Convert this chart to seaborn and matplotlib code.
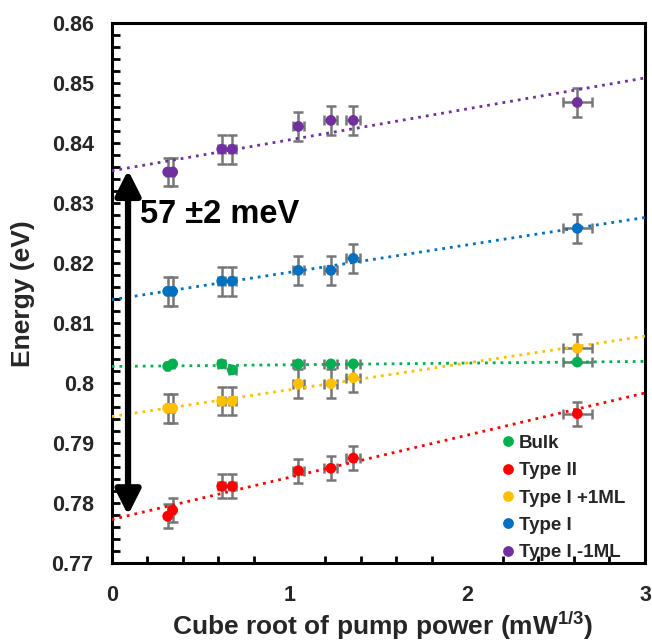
import numpy as np
import pandas as pd
import matplotlib
matplotlib.use("Agg")
import matplotlib.pyplot as plt
import seaborn as sns
from matplotlib.ticker import MultipleLocator, FixedLocator, FuncFormatter

# ---------------- data ----------------
x_vals = [0.315, 0.343, 0.619, 0.678, 1.050, 1.233, 1.359, 2.619]
x_err = [0.009, 0.010, 0.019, 0.020, 0.032, 0.037, 0.040, 0.080]

series_names = ["Bulk", "Type II", "Type I +1ML", "Type I", "Type I -1ML"]
bulk = [0.8028, 0.8032, 0.8032, 0.8022, 0.8032, 0.8032, 0.8032, 0.8035]
type_ii = [0.7778, 0.7788, 0.7828, 0.7828, 0.7854, 0.7858, 0.7875, 0.7949]
type_i_plus1 = [0.7958, 0.7958, 0.7970, 0.7970, 0.7999, 0.7999, 0.8009, 0.8058]
type_i = [0.8153, 0.8153, 0.8170, 0.8170, 0.8188, 0.8188, 0.8208, 0.8258]
type_i_minus1 = [0.8352, 0.8352, 0.8390, 0.8390, 0.8428, 0.8438, 0.8438, 0.8468]
series_values = [bulk, type_ii, type_i_plus1, type_i, type_i_minus1]
y_err = [0.0, 0.0020, 0.0024, 0.0024, 0.0024]
colors = ["#00B050", "#FF0000", "#FFC000", "#0070C0", "#7030A0"]

gap_top = 0.8355
gap_bottom = 0.7780
gap_x = 0.092
gap_label = "57 \u00b12 meV"

x_ticks = [0, 1, 2, 3]
y_ticks = [0.77, 0.78, 0.79, 0.80, 0.81, 0.82, 0.83, 0.84, 0.85, 0.86]

# ---------------- styling ----------------
sns.set_style("white")
plt.rcParams["font.family"] = ["Liberation Sans", "DejaVu Sans"]
plt.rcParams["font.weight"] = "bold"
plt.rcParams["mathtext.fontset"] = "custom"
plt.rcParams["mathtext.rm"] = "Liberation Sans:bold"
plt.rcParams["mathtext.it"] = "Liberation Sans:bold"
plt.rcParams["mathtext.bf"] = "Liberation Sans:bold"

rows = []
for name, vals in zip(series_names, series_values):
    for xv, yv in zip(x_vals, vals):
        rows.append({"x": xv, "Energy": yv, "Series": name})
df = pd.DataFrame(rows)
palette = dict(zip(series_names, colors))

fig = plt.figure(figsize=(6.52, 6.43), dpi=100)
ax = fig.add_axes([0.1713, 0.1244, 0.8180, 0.8394])
ax.set_xlim(0, 3)
ax.set_ylim(0.77, 0.86)

# error bars
for name, vals, ye in zip(series_names, series_values, y_err):
    ax.errorbar(x_vals, vals, xerr=x_err, yerr=ye if ye > 0 else None,
                fmt="none", ecolor="#767676", elinewidth=1.8,
                capsize=3.6, capthick=1.8, zorder=2)

# linear trend lines (dotted) spanning the full axis
for name in series_names:
    sub = df[df["Series"] == name]
    sns.regplot(data=sub, x="x", y="Energy", ax=ax, scatter=False, ci=None,
                truncate=False, color=palette[name],
                line_kws=dict(linestyle=(0, (1, 1.8)), lw=2.0, zorder=3))

# points
sns.scatterplot(data=df, x="x", y="Energy", hue="Series", hue_order=series_names,
                palette=palette, s=60, linewidth=0, ax=ax, zorder=4)

ax.set_xlim(0, 3)
ax.set_ylim(0.77, 0.86)

# double-headed arrow and label
ax.annotate("", xy=(gap_x, gap_bottom), xytext=(gap_x, gap_top),
            arrowprops=dict(arrowstyle="<|-|>,head_length=0.75,head_width=0.38",
                            lw=4.5, color="black", shrinkA=0, shrinkB=0,
                            mutation_scale=20), zorder=5)
ax.text(0.159, 0.8281, gap_label, fontsize=23.5, fontweight="bold",
        va="center", ha="left", color="black")

# axes styling
for side in ["left", "right", "top", "bottom"]:
    ax.spines[side].set_visible(True)
    ax.spines[side].set_color("black")
    ax.spines[side].set_linewidth(2.2)

ax.xaxis.set_major_locator(FixedLocator(x_ticks))
ax.xaxis.set_minor_locator(MultipleLocator(0.2))
ax.yaxis.set_major_locator(FixedLocator(y_ticks))
ax.yaxis.set_minor_locator(MultipleLocator(0.002))
ax.yaxis.set_major_formatter(FuncFormatter(lambda v, p: f"{v:g}"))
ax.xaxis.set_major_formatter(FuncFormatter(lambda v, p: f"{v:g}"))

ax.tick_params(axis="y", which="both", direction="in", left=True, right=False,
               width=2.0, color="black")
ax.tick_params(axis="y", which="major", length=6, pad=13, labelsize=15.5)
ax.tick_params(axis="y", which="minor", length=6)
ax.tick_params(axis="x", which="both", direction="in", bottom=True, top=False,
               width=2.0, color="black")
ax.tick_params(axis="x", which="major", length=0, pad=16, labelsize=15.5)
ax.tick_params(axis="x", which="minor", length=5)
for lab in ax.get_xticklabels() + ax.get_yticklabels():
    lab.set_fontweight("bold")

ax.set_xlabel("Cube root of pump power (mW$^{1/3}$)", fontsize=19, fontweight="bold")
ax.set_ylabel("Energy (eV)", fontsize=19, fontweight="bold")
ax.xaxis.set_label_coords(0.509, -0.087)
ax.yaxis.set_label_coords(-0.143, 0.5)

leg = ax.legend(loc="upper left", bbox_to_anchor=(0.733, 0.238), frameon=False,
                fontsize=13.5, handlelength=0.6, handletextpad=0.25,
                labelspacing=0.55, borderpad=0, borderaxespad=0, markerscale=1.0)
for t in leg.get_texts():
    t.set_fontweight("bold")

fig.savefig("out.png", dpi=100)
